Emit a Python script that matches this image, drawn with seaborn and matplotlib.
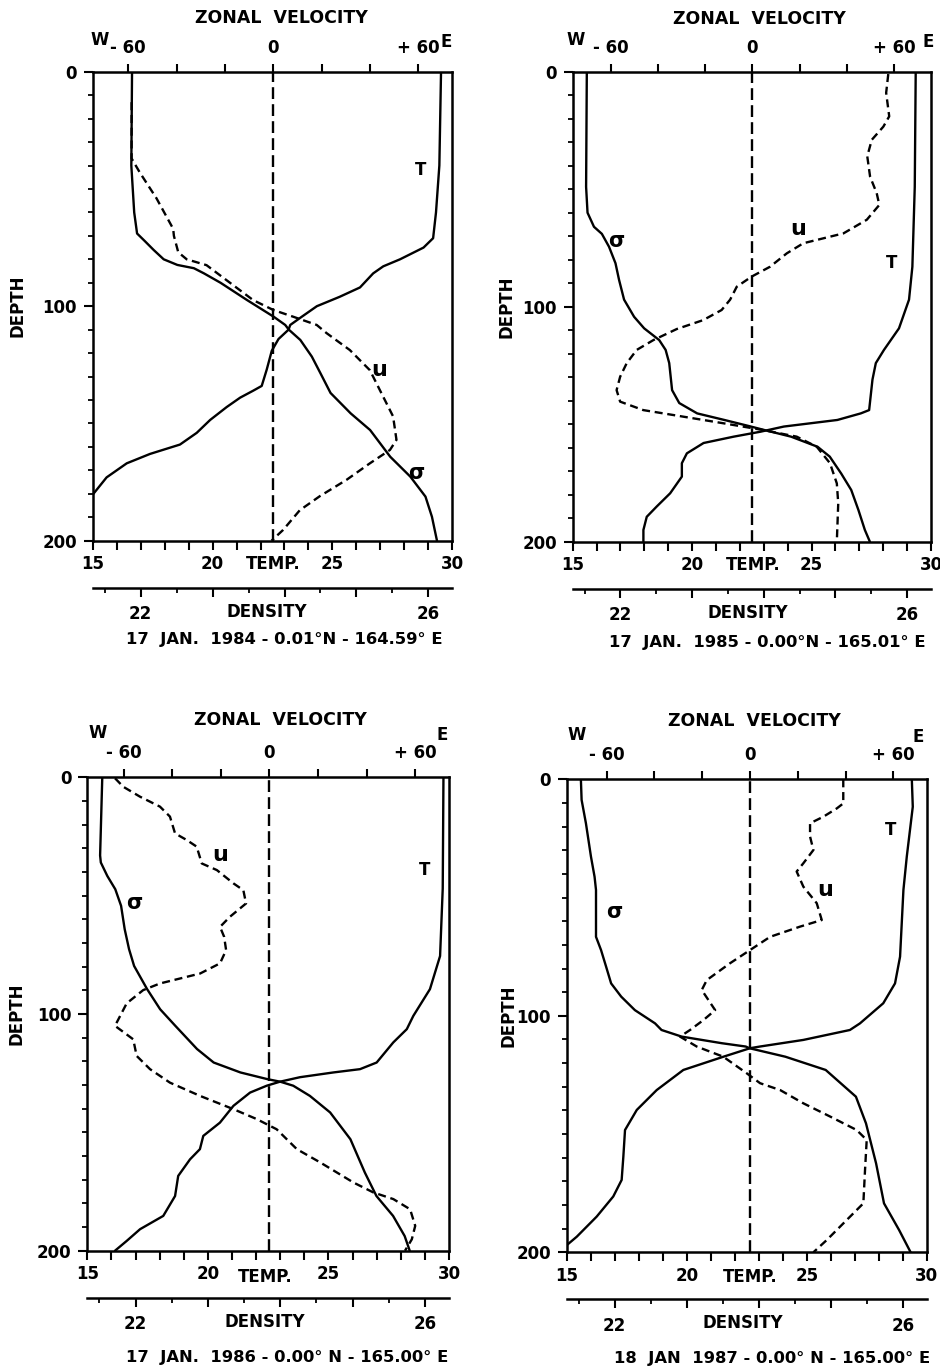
import numpy as np
import pandas as pd
import matplotlib
matplotlib.use("Agg")
import matplotlib.pyplot as plt
from matplotlib.ticker import MultipleLocator
import seaborn as sns

# ---- profiles (depth in m) ----
# 17 Jan 1984
p84_t_depth = [0, 40, 60, 71, 75, 80, 83, 86, 92, 96, 100, 104.5, 108, 110, 114, 119, 127, 134,
               136, 139, 143, 148.5, 154, 159, 163, 167, 173, 180]
p84_t = [29.53, 29.46, 29.32, 29.2, 28.8, 27.82, 27.12, 26.7, 26.15, 25.3, 24.35, 23.72, 23.24, 23.17,
         22.75, 22.47, 22.26, 22.05, 21.7, 21.15, 20.59, 19.9, 19.34, 18.64, 17.39, 16.42, 15.58, 15.03]
p84_s_depth = [0, 40, 60, 69, 72, 76, 80, 82.4, 83.8, 86, 90, 97.4, 104.5, 108, 110, 114.4, 121.5,
               128.6, 137, 145.7, 152.8, 164.2, 172.7, 181.2, 189.8, 200]
p84_s = [21.88, 21.87, 21.91, 21.95, 22.05, 22.18, 22.32, 22.51, 22.74, 22.88, 23.11, 23.48, 23.85,
         24.01, 24.06, 24.22, 24.38, 24.5, 24.64, 24.92, 25.19, 25.47, 25.75, 25.96, 26.05, 26.12]
p84_u_depth = [13, 37, 43, 54, 67, 70, 77, 80, 82.5, 90, 97.4, 101.6, 104.5, 108, 111.5, 118.7, 127.3,
               138.6, 147, 157, 161.3, 167, 174, 181, 187, 195.4, 200]
p84_u = [-58.6, -58.6, -55.2, -48.3, -41.4, -41.1, -39.3, -35.8, -27.6, -17.9, -8.3, 0, 8.3, 18, 22.1,
         31.7, 40, 45.5, 49.6, 51, 48.3, 40, 30.4, 19.3, 11, 4.1, -0.7]

# 17 Jan 1985
p85_t_depth = [0, 49, 83, 97, 109.2, 118.4, 124, 131, 144, 145.4, 148.2, 151, 153.2, 155.3, 158,
               162.4, 166.6, 172.3, 179.4, 185, 189.4, 195, 200]
p85_t = [29.36, 29.32, 29.22, 29.08, 28.66, 28.03, 27.69, 27.55, 27.41, 27.06, 26.08, 23.84, 22.86,
         21.74, 20.48, 19.78, 19.57, 19.57, 19.08, 18.52, 18.1, 17.96, 17.96]
p85_s_depth = [0, 49, 60, 66, 69, 74.5, 81.5, 88.6, 97, 104.3, 109.2, 114.2, 118.4, 124, 135.5, 141,
               145.4, 148.2, 151, 152.5, 155.3, 159.6, 163.8, 171, 178, 186.5, 195, 200]
p85_s = [21.53, 21.52, 21.54, 21.63, 21.74, 21.84, 21.93, 21.98, 22.05, 22.19, 22.33, 22.54, 22.63,
         22.68, 22.72, 22.82, 23.07, 23.45, 23.82, 24.01, 24.38, 24.75, 24.92, 25.08, 25.22, 25.32,
         25.41, 25.48]
p85_u_depth = [1, 9, 19, 23.4, 29, 36, 44.7, 51.7, 56.7, 63, 68.8, 73, 77.3, 83, 87.2, 91.5, 97, 101.4,
               105.7, 109.5, 114.2, 118.4, 124, 129.8, 135.5, 140.4, 144, 146.8, 149.6, 152.5, 155.3,
               159.6, 166.6, 175.2, 183.7, 200]
p85_u = [57.6, 56.7, 58, 55.5, 50.6, 48.7, 49.9, 52.7, 53.8, 48.5, 38.6, 21.6, 14.6, 7.5, -0.3, -6.6,
         -9.4, -13, -20.8, -32, -41.9, -49, -53.2, -56, -57.5, -56, -46.2, -29.2, -12.3, 4.7, 18.8,
         27.3, 32.9, 35.8, 36.4, 35.8]

# 17 Jan 1986
p86_t_depth = [0, 47, 75.5, 89.5, 100.8, 106.4, 112, 120.5, 123.3, 124.7, 126.7, 128.6, 130.3, 133.2,
               138.8, 145.9, 151.5, 157.1, 161.4, 168.4, 176.9, 185.3, 190.9, 195.9, 200]
p86_t = [29.77, 29.74, 29.63, 29.21, 28.52, 28.25, 27.69, 27.0, 26.31, 25.2, 23.82, 22.99, 22.44,
         21.75, 21.06, 20.5, 19.81, 19.67, 19.26, 18.77, 18.64, 18.15, 17.19, 16.63, 16.15]
p86_s_depth = [0, 33, 36, 41.7, 47.3, 54.3, 64.2, 72.6, 79.7, 89.5, 98, 105, 114.8, 120.5, 124.7,
               127.5, 128.6, 130.3, 134.6, 141.6, 152.9, 167, 176.9, 185.3, 193.8, 200]
p86_s = [21.54, 21.51, 21.52, 21.61, 21.72, 21.8, 21.85, 21.91, 21.98, 22.16, 22.34, 22.55, 22.85,
         23.08, 23.45, 23.82, 24.0, 24.18, 24.41, 24.69, 24.97, 25.17, 25.33, 25.56, 25.72, 25.79]
p86_u_depth = [0.4, 4, 8.2, 12.4, 16.6, 23.7, 26.5, 29.3, 36.4, 39.2, 44.8, 47.7, 53.3, 58.9, 63.2,
               67.4, 73, 78.6, 82.9, 87.1, 89.9, 95.5, 105, 110.7, 117.7, 123.3, 129, 134.6, 140.2,
               144.4, 148.7, 157.1, 162.7, 171.2, 175.4, 178.2, 182.5, 189.5, 195.2, 200]
p86_u = [-63.5, -60.1, -53.2, -45, -40.9, -38.8, -34, -29.9, -27.8, -21.6, -14.8, -10.7, -9.6, -16.2,
         -20.3, -18.6, -17.8, -20.3, -28.5, -45, -51.9, -58.7, -63.5, -56, -54.6, -49.1, -40.9, -28.5,
         -14.8, -5.2, 3, 11.3, 20.9, 34.6, 42.8, 51, 57.9, 60, 58.6, 55.8]

# 18 Jan 1987
p87_t_depth = [0, 11.6, 32.7, 46.8, 75, 86.3, 94.7, 103.2, 106, 110.2, 113, 113.7, 117.3, 122.9,
               131.4, 139.8, 148.3, 159.6, 169.4, 176.4, 184.9, 193.4, 197]
p87_t = [29.38, 29.42, 29.17, 29.03, 28.89, 28.68, 28.19, 27.22, 26.8, 24.86, 23.05, 22.64, 21.53,
         19.86, 18.75, 17.92, 17.43, 17.36, 17.29, 16.94, 16.25, 15.42, 15.0]
p87_s_depth = [0, 8.7, 18.6, 32.7, 41.2, 46.8, 60.9, 66.6, 72.2, 79.2, 86.3, 91.9, 97.6, 103.2, 106,
               108.8, 111.6, 113, 113.7, 117.3, 122.9, 134.2, 145.5, 162.4, 179.3, 190.6, 200]
p87_s = [21.53, 21.54, 21.6, 21.67, 21.72, 21.74, 21.74, 21.74, 21.81, 21.88, 21.95, 22.09, 22.28,
         22.56, 22.65, 22.93, 23.49, 23.82, 23.87, 24.37, 24.93, 25.35, 25.49, 25.63, 25.74, 25.95, 26.11]
p87_u_depth = [0, 10.2, 12.3, 15.8, 18.6, 24.2, 29.9, 35.5, 39, 45.4, 52.4, 59.5, 62.3, 66.6, 72.2,
               77.8, 84.9, 89.1, 97.6, 101.8, 106, 108.8, 113, 117.3, 124.3, 128.5, 131.4, 137, 142.6,
               148.3, 152.5, 165.2, 179.3, 187.8, 194.8, 200]
p87_u = [39, 39, 36.3, 30.7, 25.1, 25.1, 26.5, 22.3, 19.5, 22.3, 27.9, 30, 20.9, 8.4, 0, -8.4, -18.1,
         -20.2, -14.6, -19.5, -25.1, -29.3, -22.3, -11.2, -1.4, 4.2, 12.6, 22.3, 33.5, 44.6, 48.8,
         48.1, 47.4, 39, 32.1, 26.5]

captions = ["17  JAN.  1984 - 0.01°N - 164.59° E",
            "17  JAN.  1985 - 0.00°N - 165.01° E",
            "17  JAN.  1986 - 0.00° N - 165.00° E",
            "18  JAN  1987 - 0.00° N - 165.00° E"]
vel_ticks = [-60, -40, -20, 0, 20, 40, 60]
vel_labels = ["- 60", "", "", "0", "", "", "+ 60"]
temp_lim = (15, 30)
dens_lim = (21.333, 26.333)

sns.set_theme(style="ticks")
plt.rcParams["font.family"] = ["DejaVu Sans"]
plt.rcParams["font.weight"] = "bold"
plt.rcParams["axes.linewidth"] = 1.8
for k in ["text.color", "axes.labelcolor", "xtick.color", "ytick.color", "axes.edgecolor"]:
    plt.rcParams[k] = "black"

W, H = 940, 1371
PX = 0.72  # points per pixel at 100 dpi
fig = plt.figure(figsize=(W / 100, H / 100), dpi=100)
FS = 12
LW = 1.7


def box(l, t, r, b):
    return [l / W, 1 - b / H, (r - l) / W, (b - t) / H]


def note(ax, s, xy, dx, dy, fs=FS, **kw):
    ax.annotate(s, xy=xy, xycoords="axes fraction", xytext=(dx * PX, dy * PX),
                textcoords="offset points", ha="center", va="center", fontsize=fs,
                fontweight="bold", color="black", **kw)


def draw_panel(rect, vel_lim, t_depth, t, s_depth, s, u_depth, u, caption, marks, lay):
    ax = fig.add_axes(rect)
    ax_u = ax.twiny()
    ax_s = ax.twiny()

    line = dict(orient="y", sort=False, estimator=None, color="black", lw=LW)
    sns.lineplot(x=t, y=t_depth, ax=ax, **line)
    sns.lineplot(x=s, y=s_depth, ax=ax_s, **line)
    sns.lineplot(x=u, y=u_depth, ax=ax_u, linestyle=(0, (3.4, 2.0)), **line)
    ax_u.axvline(0, color="black", lw=LW, linestyle=(0, (5.0, 2.2)))

    # temperature (bottom) and depth
    ax.set_xlim(*temp_lim)
    ax.set_ylim(200, 0)
    ax.xaxis.set_major_locator(MultipleLocator(5))
    ax.xaxis.set_minor_locator(MultipleLocator(1))
    ax.yaxis.set_major_locator(MultipleLocator(100))
    ax.yaxis.set_minor_locator(MultipleLocator(10))
    ax.tick_params(axis="x", which="both", direction="out", length=9 * PX, width=1.5,
                   pad=4, labelsize=FS)
    ax.tick_params(axis="y", which="major", direction="out", length=9 * PX, width=1.5,
                   pad=5, labelsize=FS)
    ax.tick_params(axis="y", which="minor", direction="out", length=5 * PX, width=1.3)
    ax.set_xlabel("")
    ax.set_ylabel("")
    for sp in ax.spines.values():
        sp.set_visible(True)
        sp.set_linewidth(1.8)

    # zonal velocity (top)
    ax_u.set_xlim(*vel_lim)
    ax_u.set_xticks(vel_ticks, vel_labels)
    ax_u.tick_params(axis="x", direction="out", length=8 * PX, width=1.5, pad=5, labelsize=FS)
    ax_u.set_xlabel("")
    for sp in ax_u.spines.values():
        sp.set_visible(False)

    # density (detached bottom axis)
    ax_s.set_xlim(*dens_lim)
    ax_s.xaxis.set_ticks_position("bottom")
    ax_s.xaxis.set_label_position("bottom")
    ax_s.spines["bottom"].set_position(("outward", 47 * PX))
    for k in ["top", "left", "right"]:
        ax_s.spines[k].set_visible(False)
    ax_s.spines["bottom"].set_linewidth(1.8)
    ax_s.set_xticks([22, 23, 24, 25, 26], ["22", "", "", "", "26"])
    ax_s.xaxis.set_minor_locator(MultipleLocator(0.5))
    ax_s.tick_params(axis="x", which="major", direction="out", length=9 * PX, width=1.5,
                     pad=6, labelsize=FS)
    ax_s.tick_params(axis="x", which="minor", direction="out", length=5 * PX, width=1.3)
    ax_s.set_xlabel("")

    ax.set_ylim(200, 0)

    # curve labels in velocity/depth coordinates
    for txt, xv, yd, fs in marks:
        ax_u.text(xv, yd, txt, fontsize=fs, ha="center", va="center", fontweight="bold",
                  color="black")

    note(ax, "ZONAL  VELOCITY", (lay["zv_x"], 1), 0, lay["zv_dy"], fs=12.5)
    note(ax, "W", (lay["w_x"], 1), 0, lay["we_dy"])
    note(ax, "E", (lay["e_x"], 1), 0, lay["we_dy"] - 2)
    note(ax, "TEMP.", (lay["tp_x"], 0), 0, -lay["tp_dy"])
    note(ax, "DENSITY", (lay["dn_x"], 0), 0, -71)
    note(ax, caption, (lay["cap_x"], 0), 0, -lay["cap_dy"], fs=11.8)
    note(ax, "DEPTH", (0, 0.5), -lay["dp_dx"], 0, rotation=90)


draw_panel(box(92.7, 71.7, 452.3, 540.7), (-74.7, 74.1), p84_t_depth, p84_t, p84_s_depth, p84_s,
           p84_u_depth, p84_u, captions[0],
           [("T", 61, 42, 12), ("u", 44, 127, 16), ("σ", 59, 171, 15)],
           dict(zv_x=0.525, zv_dy=54, w_x=0.02, e_x=0.984, we_dy=32, tp_x=0.502, tp_dy=23,
                dn_x=0.484, cap_x=0.532, cap_dy=99, dp_dx=75))
draw_panel(box(572.7, 71.7, 931, 541.7), (-76.1, 75.7), p85_t_depth, p85_t, p85_s_depth, p85_s,
           p85_u_depth, p85_u, captions[1],
           [("σ", -57.6, 72, 15), ("u", 19.5, 67, 16), ("T", 59, 81.5, 12)],
           dict(zv_x=0.52, zv_dy=53, w_x=0.009, e_x=0.992, we_dy=32, tp_x=0.503, tp_dy=23,
                dn_x=0.49, cap_x=0.542, cap_dy=101, dp_dx=66))
draw_panel(box(87.3, 777.3, 449, 1250.7), (-74.9, 73.9), p86_t_depth, p86_t, p86_s_depth, p86_s,
           p86_u_depth, p86_u, captions[2],
           [("u", -20.3, 33, 16), ("σ", -55.5, 53, 15), ("T", 64, 39, 12)],
           dict(zv_x=0.533, zv_dy=57, w_x=0.03, e_x=0.98, we_dy=44, tp_x=0.493, tp_dy=26,
                dn_x=0.49, cap_x=0.554, cap_dy=107, dp_dx=71))
draw_panel(box(566.7, 779.3, 926.7, 1252.3), (-76.7, 73.9), p87_t_depth, p87_t, p87_s_depth, p87_s,
           p87_u_depth, p87_u, captions[3],
           [("T", 58.6, 21.4, 12), ("u", 31.4, 46.8, 16), ("σ", -57, 56, 15)],
           dict(zv_x=0.52, zv_dy=58, w_x=0.028, e_x=0.977, we_dy=44, tp_x=0.511, tp_dy=25,
                dn_x=0.49, cap_x=0.571, cap_dy=106, dp_dx=58))

fig.savefig("out.png", dpi=100, facecolor="white")
